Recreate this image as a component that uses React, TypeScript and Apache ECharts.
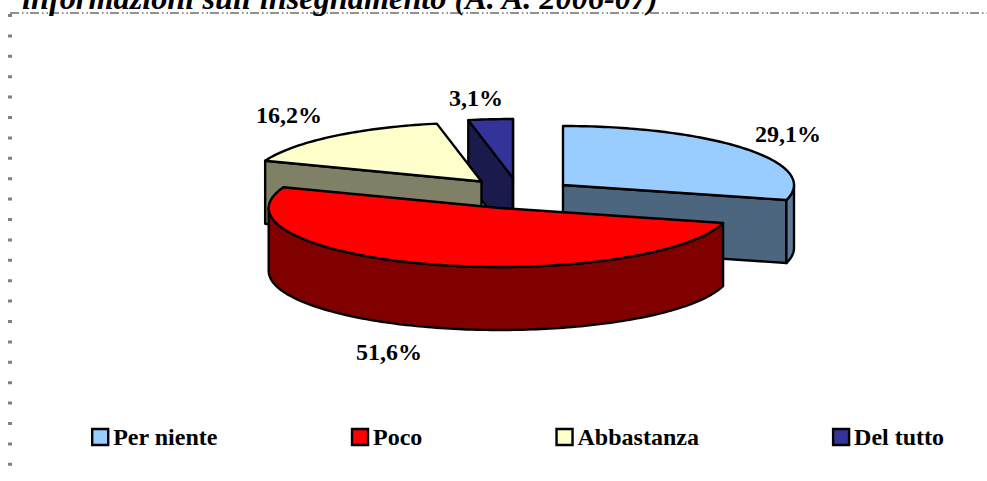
import React, { useEffect, useRef } from "react";
import * as echarts from "echarts";

const categories = ["Per niente", "Poco", "Abbastanza", "Del tutto"];
const values = [29.1, 51.6, 16.2, 3.1];
const titleText = "informazioni sull'insegnamento (A. A. 2006-07)";

const topColors = ["#99CCFF", "#FF0000", "#FFFFCC", "#333399"];
const faceColors = ["#4D6680", "#800000", "#808066", "#1A1A4D"];
const rimColors = ["#5C7A99", "#800000", "#808066", "#1A1A4D"];
const apexes = [[563, 185], [499.7, 208], [481.5, 181.5], [513, 178]];
const labelPos = [[788, 134], [389, 352], [289, 115], [476, 98]];
const zOrder = [3, 4, 2, 1];
const RX = 231;
const RY = 59;
const DEPTH = 63;
const FONT = '"Liberation Serif", "Times New Roman", serif';

const total = values.reduce((a, b) => a + b, 0);
const startFrac = (i: number) => values.slice(0, i).reduce((a, b) => a + b, 0) / total;

function arcPts(cx: number, cy: number, a0: number, a1: number, dy = 0) {
  const n = Math.max(2, Math.ceil(Math.abs(a1 - a0) / 0.02));
  const pts: number[][] = [];
  for (let k = 0; k <= n; k++) {
    const a = a0 + ((a1 - a0) * k) / n;
    pts.push([cx + RX * Math.sin(a), cy - RY * Math.cos(a) + dy]);
  }
  return pts;
}

function makeRender(i: number) {
  return (_p: any, api: any) => {
    const a0 = startFrac(i) * Math.PI * 2;
    const a1 = a0 + (api.value(0) / total) * Math.PI * 2;
    const [cx, cy] = apexes[i];
    const line = { stroke: "#000", lineWidth: 2.4, lineJoin: "round" };
    const children: any[] = [];
    const quad = (a: number) => {
      const p = arcPts(cx, cy, a, a)[0];
      return [[cx, cy], p, [p[0], p[1] + DEPTH], [cx, cy + DEPTH]];
    };
    // cut faces turned towards the viewer
    const visibleCut: number[] = [];
    if (Math.sin(a0) < 0) visibleCut.push(a0);
    if (Math.sin(a1) > 0) visibleCut.push(a1);
    visibleCut.forEach((a) => {
      children.push({
        type: "polygon",
        shape: { points: quad(a) },
        style: { fill: faceColors[i], ...line },
      });
    });
    // outer rim: only the part on the front half of the ellipse
    const r0 = Math.max(a0, Math.PI / 2);
    const r1 = Math.min(a1, (Math.PI * 3) / 2);
    if (r1 > r0) {
      const top = arcPts(cx, cy, r0, r1);
      const bottom = arcPts(cx, cy, r1, r0, DEPTH);
      children.push({
        type: "polygon",
        shape: { points: top.concat(bottom) },
        style: { fill: rimColors[i], ...line },
      });
    }
    children.push({
      type: "polygon",
      shape: { points: [[cx, cy], ...arcPts(cx, cy, a0, a1)] },
      style: { fill: topColors[i], ...line },
    });
    children.push({
      type: "text",
      x: labelPos[i][0],
      y: labelPos[i][1],
      style: {
        text: api.value(0).toFixed(1).replace(".", ",") + "%",
        fill: "#000",
        font: `bold 24px ${FONT}`,
        align: "center",
        verticalAlign: "middle",
      },
    });
    return { type: "group", children };
  };
}

export default function App() {
  const ref = useRef<HTMLDivElement>(null);
  useEffect(() => {
    const chart = echarts.init(ref.current!, null, { renderer: "svg" });
    chart.setOption({
      animation: false,
      backgroundColor: "#fff",
      legend: {
        left: 86,
        top: 420,
        itemWidth: 16,
        itemHeight: 16,
        itemGap: 133,
        selectedMode: false,
        icon: "rect",
        textStyle: { fontFamily: FONT, fontWeight: "bold", fontSize: 24, color: "#000" },
        data: categories.map((name, i) => ({
          name,
          itemStyle: { color: topColors[i], borderColor: "#000", borderWidth: 2.4 },
        })),
      },
      graphic: [
        {
          type: "text",
          x: 22,
          y: -18,
          z: 10,
          style: { text: titleText, fill: "#000", font: `italic bold 32.3px ${FONT}` },
        },
        {
          type: "line",
          shape: { x1: 10, y1: 13, x2: 987, y2: 13 },
          style: { stroke: "#6e6e6e", lineWidth: 1.5, lineDash: [9, 3, 1.5, 3, 1.5, 2] },
        },
        {
          type: "line",
          shape: { x1: 10, y1: 14, x2: 10, y2: 470 },
          style: { stroke: "#808080", lineWidth: 4, lineDash: [3, 17.4] },
        },
      ],
      series: categories.map((name, i) => ({
        type: "custom",
        name,
        coordinateSystem: "none",
        z: zOrder[i] + 2,
        silent: true,
        itemStyle: { color: topColors[i] },
        renderItem: makeRender(i),
        data: [[values[i]]],
      })),
    });
    return () => chart.dispose();
  }, []);
  return (
    <div
      ref={ref}
      style={{ position: "absolute", left: 0, top: 0, width: 987, height: 481 }}
    />
  );
}
